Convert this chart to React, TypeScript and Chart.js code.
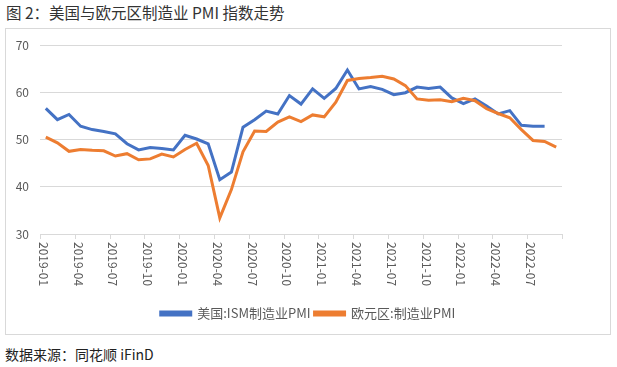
import React, { useEffect, useRef } from "react";
import { Chart, registerables } from "chart.js";

Chart.register(...registerables);

const categories = [
  "2019-01", "2019-02", "2019-03", "2019-04", "2019-05", "2019-06", "2019-07", "2019-08", "2019-09", "2019-10", "2019-11", "2019-12",
  "2020-01", "2020-02", "2020-03", "2020-04", "2020-05", "2020-06", "2020-07", "2020-08", "2020-09", "2020-10", "2020-11", "2020-12",
  "2021-01", "2021-02", "2021-03", "2021-04", "2021-05", "2021-06", "2021-07", "2021-08", "2021-09", "2021-10", "2021-11", "2021-12",
  "2022-01", "2022-02", "2022-03", "2022-04", "2022-05", "2022-06", "2022-07", "2022-08", "2022-09",
];

const usPMI: (number | null)[] = [
  56.6, 54.2, 55.3, 52.8, 52.1, 51.7, 51.2, 49.1, 47.8, 48.3, 48.1, 47.8,
  50.9, 50.1, 49.1, 41.5, 43.1, 52.6, 54.2, 56.0, 55.4, 59.3, 57.5, 60.7,
  58.7, 60.8, 64.7, 60.7, 61.2, 60.6, 59.5, 59.9, 61.1, 60.8, 61.1, 58.8,
  57.6, 58.6, 57.1, 55.4, 56.1, 53.0, 52.8, 52.8, null,
];

const euPMI: number[] = [
  50.5, 49.3, 47.5, 47.9, 47.7, 47.6, 46.5, 47.0, 45.7, 45.9, 46.9, 46.3,
  47.9, 49.2, 44.5, 33.4, 39.4, 47.4, 51.8, 51.7, 53.7, 54.8, 53.8, 55.2,
  54.8, 57.9, 62.5, 62.9, 63.1, 63.4, 62.8, 61.4, 58.6, 58.3, 58.4, 58.0,
  58.7, 58.2, 56.5, 55.5, 54.6, 52.1, 49.8, 49.6, 48.4,
];

const seriesNames = ["美国:ISM制造业PMI", "欧元区:制造业PMI"];
const yMin = 30;
const yMax = 70;
const yStep = 10;
const labelEvery = 3;

const FONT = '"Noto Sans CJK SC", "Noto Sans", sans-serif';

const xAxisPlugin = {
  id: "xAxisRotated",
  afterDraw(chart: any) {
    const xs = chart.scales.x;
    const ctx = chart.ctx;
    const bottom = chart.chartArea.bottom;
    const n = categories.length;
    const half = (xs.getPixelForValue(1) - xs.getPixelForValue(0)) / 2;
    ctx.save();
    ctx.strokeStyle = "#d9d9d9";
    ctx.lineWidth = 1;
    for (let i = 0; i <= n; i += labelEvery) {
      const px = Math.round(xs.getPixelForValue(i) - half) + 0.5;
      ctx.beginPath();
      ctx.moveTo(px, bottom);
      ctx.lineTo(px, bottom + 5);
      ctx.stroke();
    }
    ctx.fillStyle = "#595959";
    ctx.font = `12px ${FONT}`;
    ctx.textAlign = "left";
    ctx.textBaseline = "middle";
    for (let i = 0; i < n; i += labelEvery) {
      const cx = xs.getPixelForValue(i) - 2.5;
      ctx.save();
      ctx.translate(cx, bottom + 8);
      ctx.rotate(Math.PI / 2);
      ctx.fillText(categories[i], 0, 0);
      ctx.restore();
    }
    ctx.restore();
  },
};

export default function App() {
  const ref = useRef<HTMLCanvasElement | null>(null);

  useEffect(() => {
    if (!ref.current) return;
    const chart = new Chart(ref.current, {
      type: "line",
      data: {
        labels: categories,
        datasets: [
          {
            label: seriesNames[0],
            data: usPMI,
            borderColor: "#4472C4",
            backgroundColor: "#4472C4",
            borderWidth: 3,
            pointRadius: 0,
            tension: 0,
            order: 2,
            yAxisID: "y",
          },
          {
            label: seriesNames[1],
            data: euPMI,
            borderColor: "#ED7D31",
            backgroundColor: "#ED7D31",
            borderWidth: 3,
            pointRadius: 0,
            tension: 0,
            order: 1,
            yAxisID: "y",
          },
        ],
      },
      options: {
        responsive: false,
        animation: false,
        devicePixelRatio: 1,
        layout: { padding: { top: 16, right: 0, left: 0, bottom: 4 } },
        plugins: {
          legend: {
            position: "bottom",
            labels: {
              boxWidth: 30,
              boxHeight: 3,
              padding: 4,
              color: "#595959",
              font: { family: FONT, size: 13 },
              sort: (a: any, b: any) => a.datasetIndex - b.datasetIndex,
            },
          },
          tooltip: { enabled: false },
        },
        scales: {
          x: {
            type: "category",
            offset: true,
            grid: { display: false },
            border: { display: false },
            ticks: { display: false },
            afterFit: (s: any) => {
              s.height = 69;
              s.paddingLeft = 0;
              s.paddingRight = 0;
            },
          },
          y: {
            min: yMin,
            max: yMax,
            border: { display: false },
            grid: { color: "#d9d9d9", lineWidth: 1, drawTicks: false },
            ticks: {
              stepSize: yStep,
              padding: 11,
              color: "#595959",
              font: { family: FONT, size: 12 },
            },
            afterFit: (s: any) => {
              s.width = 34;
              s.paddingTop = 0;
              s.paddingBottom = 0;
            },
          },
          yRight: {
            type: "linear",
            position: "right",
            min: yMin,
            max: yMax,
            border: { display: false },
            grid: { display: false },
            ticks: { display: false },
            afterFit: (s: any) => {
              s.width = 48;
              s.paddingTop = 0;
              s.paddingBottom = 0;
            },
          },
        },
      },
      plugins: [xAxisPlugin],
    });
    return () => chart.destroy();
  }, []);

  return (
    <div
      style={{
        position: "fixed",
        left: 0,
        top: 0,
        width: 617,
        height: 367,
        background: "#fff",
        fontFamily: FONT,
      }}
    >
      <div
        style={{
          position: "absolute",
          left: 6,
          top: 2,
          fontSize: 15.5,
          lineHeight: "20px",
          color: "#333",
          whiteSpace: "nowrap",
        }}
      >
        图 2：美国与欧元区制造业 PMI 指数走势
      </div>
      <div
        style={{
          position: "absolute",
          left: 5,
          top: 28,
          width: 606,
          height: 307,
          border: "1px solid #d9d9d9",
          boxSizing: "border-box",
        }}
      >
        <canvas ref={ref} width={604} height={305} style={{ display: "block" }} />
      </div>
      <div
        style={{
          position: "absolute",
          left: 5,
          top: 344,
          fontSize: 14,
          lineHeight: "20px",
          color: "#222",
          whiteSpace: "nowrap",
        }}
      >
        数据来源：同花顺 iFinD
      </div>
    </div>
  );
}
